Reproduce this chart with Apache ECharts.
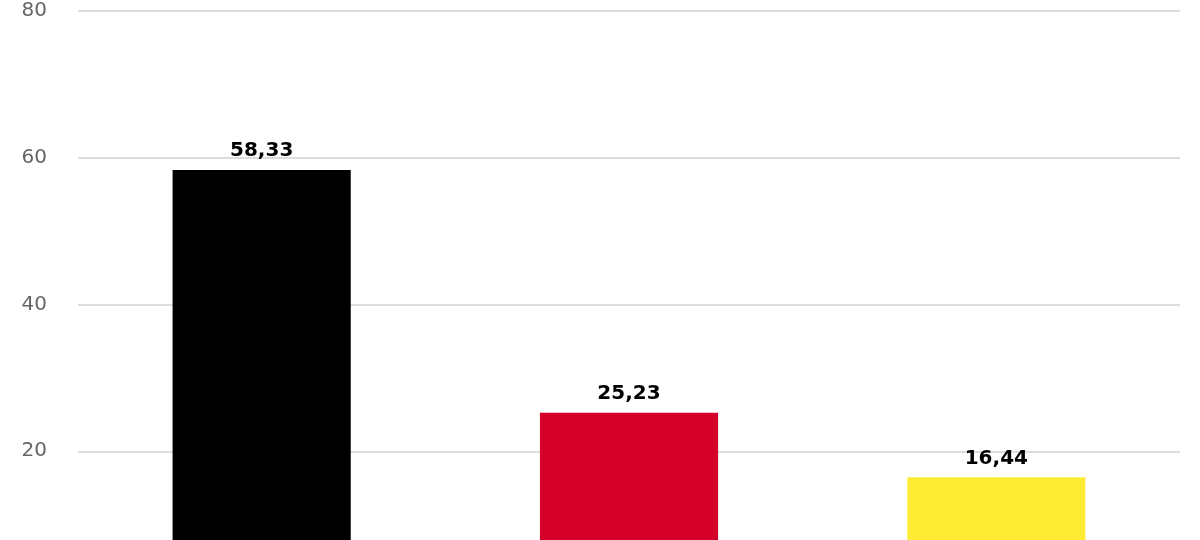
<!DOCTYPE html>
<html>
<head>
<meta charset="utf-8">
<script src="https://cdn.jsdelivr.net/npm/echarts@6/dist/echarts.min.js"></script>
<style>html,body{margin:0;padding:0;background:#fff;overflow:hidden;height:540px}#c{width:1200px;height:608px}</style>
</head>
<body>
<div id="c"></div>
<script>
var categories = ['Schwarz', 'Rot', 'Gold'];
var values = [58.33, 25.23, 16.44];
var barColors = ['#000000', '#D50029', '#FDEC33'];
var yTicks = [0, 20, 40, 60, 80];

var chart = echarts.init(document.getElementById('c'), null, {renderer: 'canvas'});
chart.setOption({
  animation: false,
  backgroundColor: '#ffffff',
  grid: {left: 78, right: 20, top: 11, bottom: 2},
  xAxis: {
    type: 'category',
    data: categories,
    axisLine: {show: false},
    axisTick: {show: false},
    axisLabel: {show: false}
  },
  yAxis: {
    type: 'value',
    min: yTicks[0],
    max: yTicks[yTicks.length - 1],
    interval: 20,
    axisLine: {show: false},
    axisTick: {show: false},
    axisLabel: {
      color: '#666666',
      fontFamily: 'DejaVu Sans',
      fontSize: 20,
      margin: 31
    },
    splitLine: {lineStyle: {color: '#dddddd', width: 2}}
  },
  series: [{
    type: 'bar',
    barWidth: '48.5%',
    data: values.map(function (v, i) {
      return {value: v, itemStyle: {color: barColors[i]}};
    }),
    label: {
      show: true,
      position: 'top',
      distance: 9,
      color: '#000000',
      fontFamily: 'DejaVu Sans',
      fontWeight: 'bold',
      fontSize: 20,
      formatter: function (p) { return p.value.toFixed(2).replace('.', ','); }
    }
  }]
});
</script>
</body>
</html>
